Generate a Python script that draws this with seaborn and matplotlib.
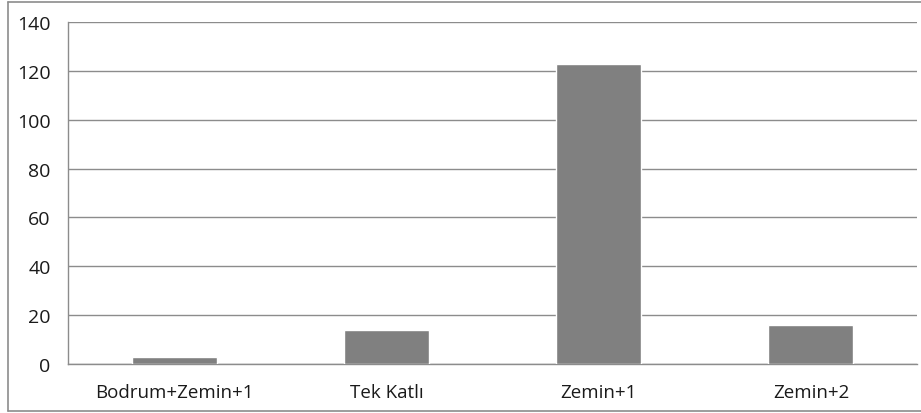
import matplotlib
matplotlib.use("Agg")
import matplotlib.pyplot as plt
import seaborn as sns
import pandas as pd
from matplotlib.lines import Line2D

categories = ["Bodrum+Zemin+1", "Tek Katlı", "Zemin+1", "Zemin+2"]
counts = [3, 14, 123, 16]
y_ticks = [0, 20, 40, 60, 80, 100, 120, 140]

df = pd.DataFrame({"kat": categories, "sayi": counts})

sns.set_style("white")
plt.rcParams["font.family"] = ["Open Sans", "DejaVu Sans"]

fig = plt.figure(figsize=(9.21, 4.14), dpi=100)
ax = fig.add_axes([68 / 921, 1 - 365 / 414, (917 - 68) / 921, (365 - 23) / 414])

sns.barplot(data=df, x="kat", y="sayi", color="#808080", width=0.4,
            saturation=1, ax=ax, zorder=3)

ax.set_ylim(0, 140)
ax.set_xlim(-0.5, len(categories) - 0.5)
ax.set_yticks(y_ticks)
ax.set_xlabel("")
ax.set_ylabel("")
ax.yaxis.grid(True, color="#8c8c8c", linewidth=1.0, zorder=0)
ax.xaxis.grid(False)

for side in ["top", "right"]:
    ax.spines[side].set_visible(False)
for side in ["left", "bottom"]:
    ax.spines[side].set_color("#8c8c8c")
    ax.spines[side].set_linewidth(1.0)

# x ticks sit on the category boundaries, labels in the middle
ax.set_xticks([i - 0.5 for i in range(len(categories) + 1)], minor=False)
ax.set_xticklabels([])
ax.set_xticks(range(len(categories)), minor=True)
ax.set_xticklabels(categories, minor=True)
ax.tick_params(axis="x", which="major", length=4.5, width=1, color="#8c8c8c", direction="out")
ax.tick_params(axis="x", which="minor", length=0, pad=14, labelsize=13.5, labelcolor="#1a1a1a")
ax.tick_params(axis="y", length=4.5, width=1, color="#8c8c8c", direction="out",
               pad=8, labelsize=14, labelcolor="#1a1a1a")

# outer chart border
fig.add_artist(Line2D([8 / 921, 8 / 921], [1 - 412 / 414, 1 - 3 / 414],
                      transform=fig.transFigure, color="#8c8c8c", linewidth=1.2))
fig.add_artist(Line2D([8 / 921, 1], [1 - 3 / 414, 1 - 3 / 414],
                      transform=fig.transFigure, color="#8c8c8c", linewidth=1.2))
fig.add_artist(Line2D([8 / 921, 1], [1 - 412 / 414, 1 - 412 / 414],
                      transform=fig.transFigure, color="#8c8c8c", linewidth=1.2))

fig.savefig("out.png", dpi=100)
